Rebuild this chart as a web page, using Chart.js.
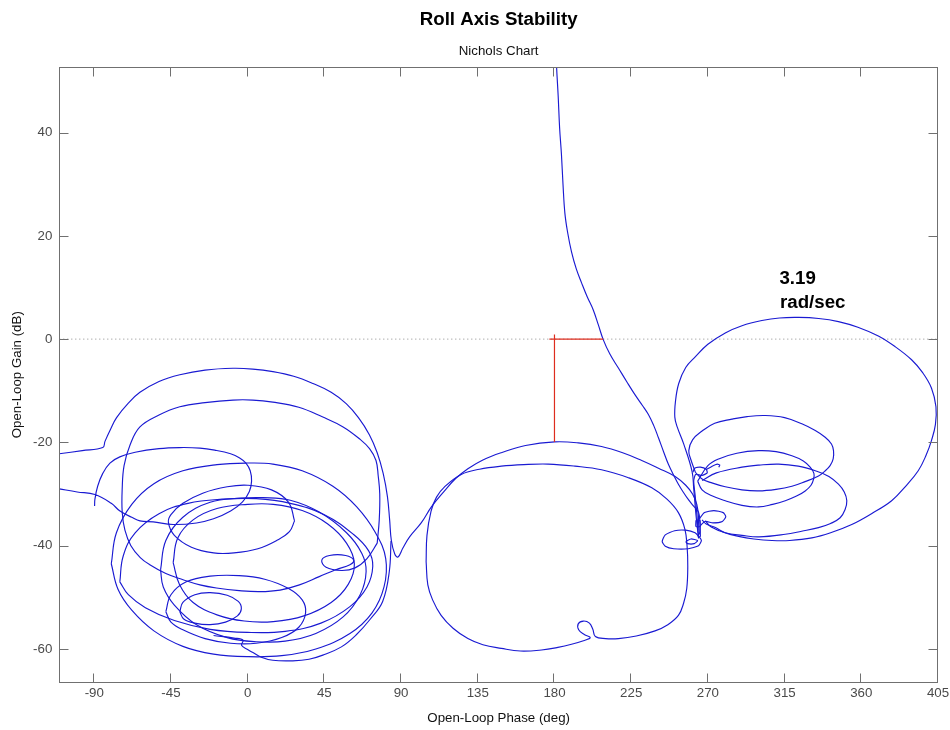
<!DOCTYPE html>
<html>
<head>
<meta charset="utf-8">
<script src="https://cdn.jsdelivr.net/npm/chart.js@4.4.1/dist/chart.umd.min.js"></script>
<style>
html,body{margin:0;padding:0;background:#fff;}
#wrap{width:950px;height:730px;}
</style>
</head>
<body>
<div id="wrap"><canvas id="c" width="950" height="730"></canvas></div>
<script>
// ---- tick labels ----
const phaseTicks = [-90, -45, 0, 45, 90, 135, 180, 225, 270, 315, 360, 405];
const gainTicks = [-60, -40, -20, 0, 20, 40];

// ---- curve segments: [open-loop phase (deg), open-loop gain (dB)] ----
const outerArc = [[-110.5,-22.2],[-97,-21.6],[-85,-21.0],[-83.7,-19.8],[-80.5,-17.5],[-76.9,-15.2],[-70,-12.4],[-63.2,-10.3],[-52,-8.2],[-39.8,-6.9],[-25,-6.0],[-8.6,-5.65],[3,-5.8],[14.8,-6.3],[27,-7.2],[38.3,-8.6],[49,-10.3],[57.8,-12.5],[65,-15.2],[71.4,-18.5],[76,-22],[79.5,-26],[82,-30.5],[83.3,-35],[84.3,-39],[86.3,-41.6],[88.2,-42.2],[91,-40.5],[95,-38.3],[101.8,-35.6],[108,-32.4],[115.5,-29.4],[122,-27],[129.2,-25.1],[138,-23.4],[148.8,-22.0],[163,-20.6],[180.2,-19.9],[194,-20.1],[207.6,-20.8],[220,-22.0],[231.2,-23.5],[241,-25.0],[250.8,-26.6],[257,-28.3],[261,-30],[263.5,-32],[264.5,-34.5],[264.2,-37]];
const arc2 = [[76,-39.5],[77.2,-35],[77.5,-30],[76.6,-26.5],[75.3,-23.5],[71.5,-21.2],[65.6,-19.3],[56,-17],[44.1,-15.1],[30,-13.2],[14.8,-12.2],[3,-11.8],[-8.6,-11.8],[-25,-12.3],[-39.8,-13.1],[-52,-14.7],[-63.2,-17.0],[-69,-20.5],[-72.5,-24.5],[-73.6,-29],[-73.6,-33.5],[-72,-37],[-68.5,-40],[-63,-42.3],[-57.4,-43.7],[-48,-45.4],[-37.9,-46.6],[-28,-47.6],[-18.3,-48.2],[-5,-48.7],[7,-48.9],[19,-48.6],[30.4,-47.6],[42,-46],[52,-44.6],[60,-43.7],[62.2,-42.8],[57.5,-41.9],[48,-41.9],[43.5,-42.8],[46,-44.2],[55,-44.8],[63,-44.3],[70,-42.5],[76,-39.5]];
const tailLower = [[-110.5,-29.0],[-100,-29.6],[-89.6,-30.1],[-80,-31.8],[-74.9,-33.3],[-68,-34.5],[-63.2,-35.2],[-55.4,-35.4],[-43.7,-35.9],[-30,-35.6],[-20,-34.8],[-10,-33.3],[-3,-31.5],[1,-29.5],[2.3,-27.5],[1.5,-25.5],[-1,-24],[-4.7,-23.0],[-10,-22.2],[-19.3,-21.5],[-28,-21.1],[-39.8,-21.0],[-52,-21.2],[-66,-21.9],[-75,-22.8],[-80.8,-24.0],[-85,-26],[-88,-28.5],[-89.6,-31],[-89.8,-32.3]];
const loopMidLeft = [[27.5,-35.2],[24,-31.6],[14,-29.2],[0,-28.3],[-12,-28.6],[-26,-29.8],[-38,-31.8],[-45,-34],[-46.5,-35.5],[-43,-38],[-33,-40.3],[-20,-41.4],[-8,-41.4],[6,-40.6],[17,-39],[24.5,-37.3],[27.5,-35.2]];
const loopWide = [[-80,-43.5],[-77,-37.5],[-68,-32],[-55,-28],[-38,-25.5],[-18,-24.3],[0,-24],[14.8,-24.2],[32,-25.5],[50,-28.5],[64,-32.5],[75,-37.5],[81,-42.5],[80,-48],[73,-53],[60,-57],[40,-60],[20,-61.3],[0,-61.5],[-20,-61],[-38,-59.5],[-55,-56.5],[-68,-52.5],[-76,-48.5],[-80,-43.5]];
const loopC = [[-75,-47],[-73,-42],[-66,-37.5],[-52,-33.8],[-35,-31.8],[-15,-31],[5,-30.9],[25,-31.8],[45,-34],[62,-37.8],[71,-41],[73.4,-44],[70,-48],[60,-51.8],[43,-55],[22,-56.6],[0,-56.8],[-22,-56.2],[-43,-54.5],[-60,-52],[-70,-49.5],[-75,-47]];
const loopD = [[-51.1,-44.7],[-48,-39],[-38,-34.5],[-22,-31.6],[-4,-30.8],[9,-30.7],[25,-31.2],[42,-33.5],[58,-37.5],[67,-41.5],[69.5,-45],[66,-49.5],[56,-53.8],[40,-57],[22,-58.5],[5,-58.6],[-12,-57.8],[-30,-55.3],[-43,-51.5],[-49.5,-48],[-51.1,-44.7]];
const loopE = [[-43.7,-43.3],[-41,-38.5],[-32,-35],[-18,-32.8],[0,-32],[15,-32],[32,-33.2],[47,-35.8],[58,-39.5],[62.6,-43.5],[59,-47.5],[49,-51],[33,-53.6],[15,-54.7],[-2,-54.6],[-18,-53.4],[-32,-51],[-40,-47.5],[-43.7,-43.3]];
const loopLow = [[-48,-52.8],[-45,-49.5],[-36,-47],[-22,-45.9],[-5,-45.8],[10,-46.5],[24,-48.3],[32,-50.5],[34,-53],[30,-55.8],[20,-57.8],[5,-58.9],[-10,-58.9],[-25,-58],[-38,-56.3],[-45,-54.8],[-48,-52.8]];
const loopSmall = [[-39.8,-52.8],[-38,-51],[-31,-49.5],[-22,-49.1],[-12,-49.6],[-5.5,-50.8],[-3.7,-52.2],[-6,-53.6],[-13,-54.8],[-22,-55.3],[-31,-55],[-37.5,-54.2],[-39.8,-52.8]];
const bottomSweep = [[-20,-57.4],[-8,-57.9],[-2.7,-58.3],[-3.6,-59.3],[0,-60.1],[3.1,-60.7],[8,-61.6],[14.8,-62.2],[26.5,-62.3],[36,-62],[44.1,-61.2],[55,-59.6],[63.6,-57.3],[72,-54.2],[79.2,-50.8],[83.1,-45.0],[84.1,-39.1]];
const midLoop = [[104.7,-43.1],[105.2,-38],[107.6,-33.3],[110.8,-30.6],[115.5,-28.6],[125.3,-26.2],[136,-25.2],[148.8,-24.6],[162,-24.3],[176.3,-24.2],[192,-24.6],[207.6,-25.3],[223,-26.8],[237.1,-28.8],[246,-31],[252.7,-33.6],[256.5,-36.8],[257.8,-40.1],[258.2,-44],[257.6,-48.3],[255.7,-51.2],[252.7,-53.5],[246.5,-55.3],[239,-56.5],[228,-57.5],[217.5,-58.0],[210,-58.0],[204,-57.6],[202.5,-56.2],[200.5,-55.0],[197,-54.6],[194,-55.1],[194.2,-56.3],[197.5,-57.2],[201,-57.8],[197,-58.4],[190,-59.1],[182,-59.7],[172.4,-60.2],[160,-60.4],[148.8,-59.9],[138,-59.2],[129.2,-58.0],[120.5,-56],[113.5,-53.5],[108.5,-50.5],[105.7,-47.6],[104.7,-43.1]];
const descent = [[181,56],[181.2,53],[182.2,46.9],[183,41],[184.1,35.7],[185,30],[186.1,24.4],[187.8,20.5],[190,16.9],[192.8,13.6],[195.9,10.9],[199.2,8.2],[202.7,5.7],[205.7,2.8],[208.6,-0.1],[212.5,-2.9],[217.5,-5.6],[222.5,-8.3],[227.3,-10.8],[231.5,-12.8],[235.1,-14.6],[238.3,-16.8],[241,-19.1],[244,-21.8],[246.9,-24.3],[250,-26.4],[252.7,-28.1],[255.7,-29.7],[258.6,-31.1],[261.5,-32.3],[264.5,-33.5],[265.3,-35.5],[265.6,-38.3]];
const bigRightLoop = [[264.5,-38.5],[263,-34],[261.7,-29],[260.7,-25.6],[255.8,-20.3],[252,-17],[250.6,-15.1],[251,-12],[252.9,-8.6],[257,-5.5],[262.7,-3.4],[270,-1.0],[280.2,1.2],[290,2.6],[301.7,3.6],[312,4.1],[323.2,4.2],[335,4.0],[346.6,3.4],[358,2.3],[370,0.6],[380,-1.5],[389.5,-4.0],[396,-6.5],[401.2,-9.5],[403.8,-13.1],[403.5,-16.5],[401.2,-19.6],[398,-22.5],[393.4,-25.5],[386,-28.5],[377.8,-31.3],[366,-33.8],[354.4,-35.9],[342,-37.5],[331,-38.5],[318,-39],[307.6,-39.0],[297,-38.7],[288,-38.2],[280,-37.5],[274.4,-36.5],[269,-35.8],[266.6,-35]];
const rightLoop2 = [[262.7,-25.8],[260.2,-23.5],[258.8,-21.6],[261,-19.5],[266.6,-17.8],[274,-16.3],[284.1,-15.5],[293,-15.0],[303.7,-14.8],[315,-15.2],[325.1,-16.4],[333,-17.7],[338.8,-19.0],[342.5,-20.3],[343.7,-21.6],[343.5,-23.2],[341.7,-24.5],[338.5,-25.6],[334.9,-26.5],[327,-27.6],[319.3,-28.5],[310,-29.1],[299.7,-29.4],[290,-29.2],[280.2,-28.6],[272,-27.8],[266.6,-27.1],[262.7,-25.8]];
const rightLoop3 = [[264,-27.5],[270,-24.5],[276.3,-23.2],[287,-22.1],[299.7,-21.6],[310,-21.8],[319.3,-22.6],[326,-23.6],[330,-24.8],[332.2,-26],[332,-27.1],[330.5,-28.3],[327.1,-29.4],[322,-30.4],[315.4,-31.3],[308,-32.0],[299.7,-32.5],[290,-32.2],[280.2,-31.3],[272,-30.3],[266.6,-29.2],[264,-27.5]];
const rightLoop4 = [[266.6,-27.4],[275,-25.9],[290,-24.8],[300,-24.4],[311.5,-24.2],[323,-24.6],[333,-25.5],[341,-26.6],[346.6,-28.1],[350,-29.6],[351.5,-31.3],[350.5,-33],[347.6,-34.6],[342,-35.7],[334.9,-36.5],[325,-37.2],[315.4,-37.8],[300,-38.3],[290,-38.0],[280.2,-37.5],[272,-36.4],[268.5,-35.2]];
const knotA = [[261.2,-25.8],[262.2,-25.0],[265.6,-24.8],[269,-25.2],[269.6,-25.9],[266.5,-26.4],[262.8,-26.2],[261.7,-27.5],[262.6,-30.5],[263.6,-34.2],[264.6,-38.6]];
const knotB = [[265,-34.8],[268,-33.6],[273.5,-33.2],[279,-33.6],[280.5,-34.4],[278.5,-35.3],[273,-35.6],[268.5,-35.3],[265.5,-36.2],[265.2,-37.5],[264,-38.2]];
const knotC = [[264.8,-38.2],[266.2,-39],[264.5,-40.0],[258.5,-40.6],[250,-40.6],[245,-40.1],[243.2,-39.2],[245,-37.9],[250.5,-37.1],[257,-37.0],[262.5,-37.5],[265,-38.3]];
const knotD = [[257,-39.2],[260,-38.7],[264,-39],[262,-39.6],[258,-39.6],[257,-39.2]];
const knotBox = [[263,-35.1],[265.3,-35.1],[265.3,-36.3],[263,-36.3],[263,-35.1]];
const knotTail = [[269,-25.3],[272.5,-24.6],[275.5,-24.2],[277,-24.4],[276.4,-24.8]];
// stability margin markers (red)
const marginGain = [[180,0.9],[180,-19.9]];
const marginPhase = [[177,0],[208.6,0]];
// 0 dB reference
const zeroLine = [[-110.5,0],[405,0]];

const FONT = '"Liberation Sans", Arial, Helvetica, sans-serif';
const BLUE = 'rgb(26,26,210)';
const toXY = arr => arr.map(p => ({x: p[0], y: p[1]}));

const blueSegs = [outerArc, arc2, tailLower, loopMidLeft, loopWide, loopC, loopD, loopE, loopLow, loopSmall, bottomSweep, midLoop, descent, bigRightLoop, rightLoop2, rightLoop3, rightLoop4];
const knotSegs = [knotA, knotB, knotC, knotD, knotBox, knotTail];

const datasets = [];
[marginGain, marginPhase].forEach(s => datasets.push({data: toXY(s), showLine: true, borderColor: 'rgb(222,45,30)', borderWidth: 1.2, pointRadius: 0, tension: 0}));
blueSegs.forEach(s => datasets.push({data: toXY(s), showLine: true, borderColor: BLUE, borderWidth: 1.15, pointRadius: 0, tension: 0.4}));
knotSegs.forEach(s => datasets.push({data: toXY(s), showLine: true, borderColor: BLUE, borderWidth: 1.15, pointRadius: 0, tension: 0.2}));
datasets.push({data: toXY(zeroLine), showLine: true, borderColor: '#8a8a8a', borderWidth: 1, borderDash: [1, 3], pointRadius: 0, tension: 0});

const framePlugin = {
  id: 'frame',
  afterDatasetsDraw(chart) {
    const {ctx, chartArea: a, scales: {x, y}} = chart;
    ctx.save();
    ctx.strokeStyle = '#707070';
    ctx.lineWidth = 1;
    const L = Math.round(a.left) + 0.5, R = Math.round(a.right) - 0.5, T = Math.round(a.top) + 0.5, B = Math.round(a.bottom) - 0.5;
    ctx.strokeRect(L, T, R - L, B - T);
    ctx.beginPath();
    phaseTicks.forEach(v => {
      const px = Math.round(x.getPixelForValue(v)) - 0.5;
      ctx.moveTo(px, B); ctx.lineTo(px, B - 9);
      ctx.moveTo(px, T); ctx.lineTo(px, T + 9);
    });
    gainTicks.forEach(v => {
      const py = Math.round(y.getPixelForValue(v)) + 0.5;
      ctx.moveTo(L, py); ctx.lineTo(L + 9, py);
      ctx.moveTo(R, py); ctx.lineTo(R - 9, py);
    });
    ctx.stroke();
    ctx.fillStyle = '#000';
    ctx.font = 'bold 18.7px ' + FONT;
    ctx.textAlign = 'left';
    ctx.textBaseline = 'middle';
    ctx.fillText('3.19', x.getPixelForValue(312), y.getPixelForValue(11.6));
    ctx.fillText('rad/sec', x.getPixelForValue(312.3), y.getPixelForValue(7.0));
    ctx.restore();
  }
};

new Chart(document.getElementById('c'), {
  type: 'scatter',
  data: {datasets},
  options: {
    responsive: false,
    animation: false,
    devicePixelRatio: 1,
    layout: {padding: {left: 4, right: 12, top: 0, bottom: 3}},
    plugins: {
      legend: {display: false},
      tooltip: {enabled: false},
      title: {display: true, fullSize: false, text: 'Roll Axis Stability', color: '#000', font: {family: FONT, size: 18.7, weight: 'bold'}, padding: {top: 8.8, bottom: 12.5}},
      subtitle: {display: true, fullSize: false, text: 'Nichols Chart', color: '#111', font: {family: FONT, size: 13.3}, padding: {top: 0, bottom: 7.3}}
    },
    scales: {
      x: {
        type: 'linear', min: -110.5, max: 405,
        afterBuildTicks: s => { s.ticks = phaseTicks.map(v => ({value: v})); },
        afterFit: s => { s.height = 730 - 3 - 682.5; s.paddingLeft = 0; s.paddingRight = 0; },
        grid: {display: false, drawTicks: false},
        border: {display: false},
        ticks: {padding: 3, color: '#4a4a4a', font: {family: FONT, size: 13.3}, maxRotation: 0, autoSkip: false},
        title: {display: true, text: 'Open-Loop Phase (deg)', color: '#111', font: {family: FONT, size: 13.3}, padding: {top: 0, bottom: 1}}
      },
      y: {
        type: 'linear', min: -66.5, max: 52.7,
        afterBuildTicks: s => { s.ticks = gainTicks.map(v => ({value: v})); },
        afterFit: s => { s.width = 59.3 - 4; s.paddingTop = 0; s.paddingBottom = 0; },
        grid: {display: false, drawTicks: false},
        border: {display: false},
        ticks: {padding: 7, color: '#4a4a4a', font: {family: FONT, size: 13.3}, autoSkip: false},
        title: {display: true, text: 'Open-Loop Gain (dB)', color: '#111', font: {family: FONT, size: 13.3}, padding: {top: 5.5, bottom: 0}}
      }
    }
  },
  plugins: [framePlugin]
});
</script>
</body>
</html>
